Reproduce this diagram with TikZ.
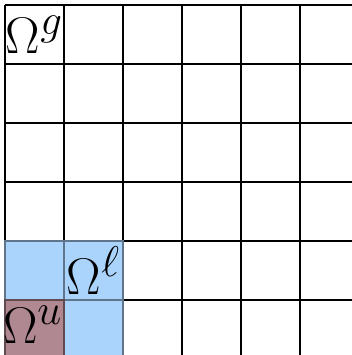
\documentclass[tikz,border=0pt]{standalone}
\usepackage{amsmath}
\usepackage{amssymb}
\usepackage{xcolor}
\usepackage{tikz}
\definecolor{cellblue}{RGB}{170, 212, 252}
\definecolor{cellmauve}{RGB}{176, 136, 146}
\newcommand{\shadecell}[3]{
\draw[thick, fill=#3, draw=#3!55!black] (#1,#2) rectangle ++(1,1);
}

\begin{document}
\begin{tikzpicture}
    \useasboundingbox (-0.085,0.068) rectangle (5.881,6.085);
    \clip (-0.085,0.068) rectangle (5.881,6.085);
    \foreach \x in {0,1,2,3,4,5,6}
    {
        \draw[thick] (\x,0) -- (\x,6);
        \draw[thick] (0,\x) -- (6,\x);
    }
    \shadecell{0}{1}{cellblue}
    \shadecell{1}{1}{cellblue}
    \shadecell{1}{0}{cellblue}
    \shadecell{0}{0}{cellmauve}
    \node[font=\Huge] (g) at (0.5,5.5) {$\Omega^g$};
    \node[font=\Huge] (l) at (1.5,1.5) {$\Omega^\ell$};
    \node[font=\Huge] (u) at (0.47,0.58) {$\Omega^u$};
\end{tikzpicture}
\end{document}
